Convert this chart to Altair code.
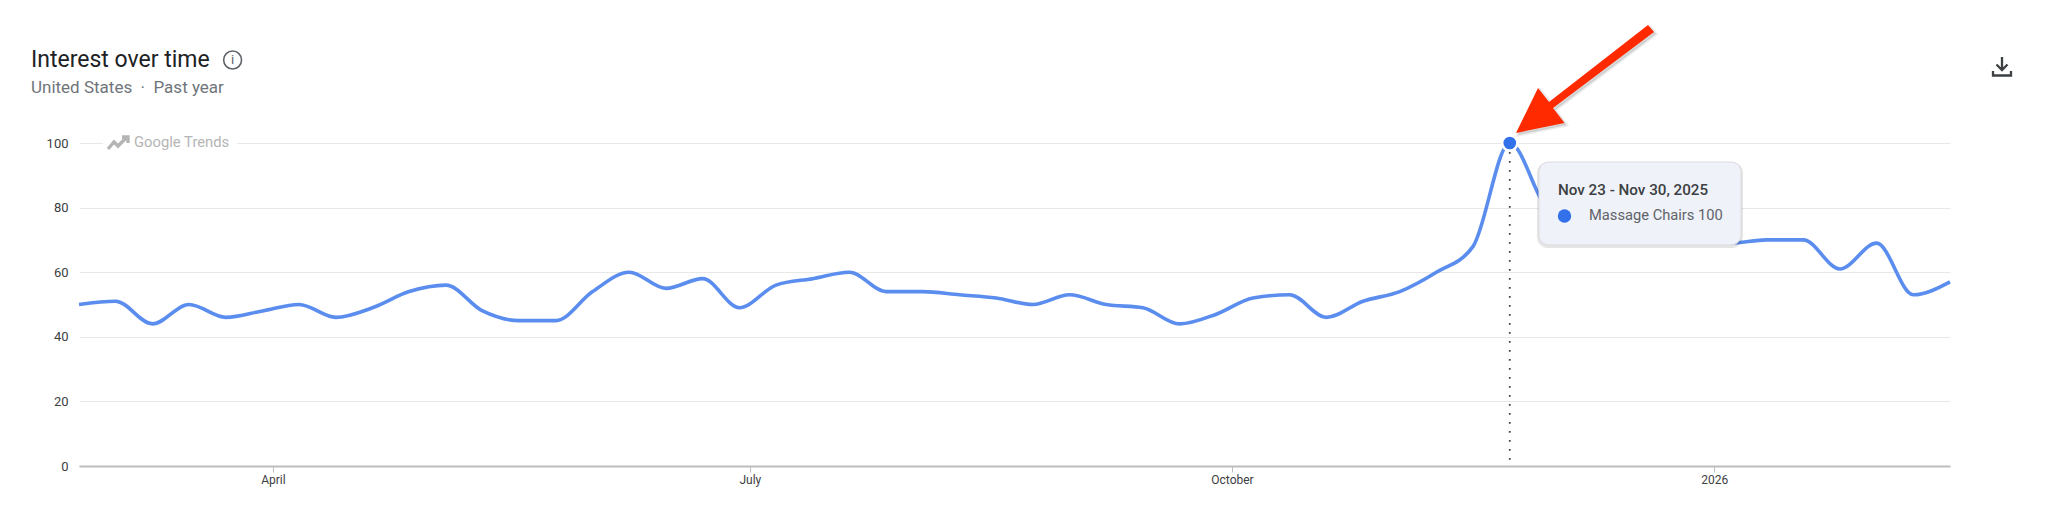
import altair as alt
import pandas as pd

values = [50, 51, 44, 50, 46, 48, 50, 46, 49, 54, 56, 48, 45, 45, 54, 60, 55, 58, 49, 56,
          58, 60, 54, 54, 53, 52, 50, 53, 50, 49, 44, 47, 52, 53, 46, 51, 54, 60, 68, 100,
          80, 74, 72, 70, 69, 69, 70, 70, 61, 69, 53, 57]
dates = [d.strftime("%Y-%m-%dT00:00:00") for d in pd.date_range("2025-02-23", periods=len(values), freq="7D")]
y_ticks = [0, 20, 40, 60, 80, 100]
peak_date = "2025-11-23T00:00:00"
peak_value = 100
title_text = "Interest over time"
subtitle_text = "United States \u00a0\u00b7\u00a0 Past year"
brand_text = "Google Trends"
tip_title = "Nov 23 - Nov 30, 2025"
tip_series = "Massage Chairs 100"

FONT = "Roboto"
W, H = 1871, 323
OX, OY = 79, 143  # page position of plot area


def px(x):
    return alt.value(x - OX)


def py(y):
    return alt.value(y - OY)


df = pd.DataFrame({"date": dates, "value": values})
one = pd.DataFrame({"a": [0]})

x_scale = alt.Scale(nice=False, domain=[alt.DateTime(year=2025, month=2, date=23),
                                         alt.DateTime(year=2026, month=2, date=15)])
y_scale = alt.Scale(domain=[0, 100], nice=False)

line = alt.Chart(df).mark_line(interpolate="monotone", strokeWidth=3.6, color="#5B8DEF", clip=False).encode(
    x=alt.X("date:T", scale=x_scale, title=None, axis=alt.Axis(
        values=[alt.DateTime(year=2025, month=4, date=1), alt.DateTime(year=2025, month=7, date=1),
                alt.DateTime(year=2025, month=10, date=1), alt.DateTime(year=2026, month=1, date=1)],
        labelExpr="month(datum.value)==0 ? timeFormat(datum.value,'%Y') : timeFormat(datum.value,'%B')",
        grid=False, domainColor="#BDBDBD", domainWidth=2, tickColor="#BDBDBD", tickSize=6,
        labelFont=FONT, labelFontSize=12, labelColor="#3C4043", labelPadding=2)),
    y=alt.Y("value:Q", scale=y_scale, title=None, axis=alt.Axis(
        values=y_ticks, grid=True, gridColor="#E8E8E8", gridWidth=1, domain=False, ticks=False,
        labelFont=FONT, labelFontSize=13, labelColor="#3C4043", labelPadding=11)),
)

peak_df = pd.DataFrame({"date": [peak_date], "value": [peak_value], "bottom": [0.5]})
rule = alt.Chart(peak_df).mark_rule(color="#444444", strokeWidth=1.8, strokeDash=[1.8, 7.2]).encode(
    x="date:T", y="value:Q", y2="bottom:Q")
peak = alt.Chart(peak_df).mark_point(filled=True, size=230, color="#3271EA", stroke="white", strokeWidth=2.5, opacity=1).encode(
    x="date:T", y="value:Q")


def text(t, x, y, size, color, weight="normal", font=FONT, align="left"):
    return alt.Chart(pd.DataFrame({"t": [t]})).mark_text(
        align=align, baseline="middle", fontSize=size, color=color, fontWeight=weight, font=font
    ).encode(x=px(x), y=py(y), text="t:N")


def box(x0, x1, y0, y1, **kw):
    return alt.Chart(one).mark_rect(**kw).encode(x=px(x0), x2=px(x1), y=py(y0), y2=py(y1))


def sym(path, x, y, **kw):
    return alt.Chart(one).mark_point(shape=path, size=4, opacity=1, **kw).encode(x=px(x), y=py(y))


# Brand cut-out on the top gridline
brand_bg = box(103, 237, 134, 152, color="white")
brand_logo = sym("M-10,6 L-4,-1 L0,3 L9,-6 M4,-6 L10,-6 L10,0", 118, 143, filled=False, stroke="#B5B5B5", strokeWidth=3.4)
brand = text(brand_text, 134, 143, 14.8, "#B5B5B5")

# Tooltip
tip_shadow = box(1537, 1743, 162, 248, color="#000000", opacity=0.10, cornerRadius=11)
tip_box = box(1539, 1741, 162, 245, color="#EFF2F9", stroke="#DADCE0", strokeWidth=1, cornerRadius=10)
tip_t = text(tip_title, 1558, 190, 15.2, "#3C4043", weight=500)
tip_dot = alt.Chart(one).mark_point(filled=True, size=180, color="#3271EA", opacity=1).encode(x=px(1564.5), y=py(216))
tip_s = text(tip_series, 1589, 216, 14.7, "#5F6368")

# Header
title = text(title_text, 31, 60, 23, "#202124", weight=400)
sub = text(subtitle_text, 31, 88, 17, "#70757A")
info_c = alt.Chart(one).mark_point(size=320, filled=False, color="#5F6368", strokeWidth=1.6, opacity=1).encode(x=px(232.6), y=py(60))
info_i = text("i", 232.6, 60, 13, "#5F6368", align="center")
dl = sym("M0,-10 L0,3 M-5.5,-2.5 L0,3 L5.5,-2.5 M-9,4 L-9,8.5 L9,8.5 L9,4", 2002, 67, filled=False, stroke="#3C4043", strokeWidth=2.3)

# Arrow (annotation)
ARROW = "M132,-108 L138,-101 L37,-25 L48.5,-10 L0,0 L22,-45 L33,-31 Z"
arrow_sh = sym(ARROW, 1518, 135, filled=True, fill="#999999", fillOpacity=0.35, stroke="#999999", strokeOpacity=0.2, strokeWidth=3)
arrow = sym(ARROW, 1516, 133, filled=True, fill="#FF2A00")

chart = alt.layer(
    line, brand_bg, brand_logo, brand, rule, peak,
    tip_shadow, tip_box, tip_t, tip_dot, tip_s,
    title, sub, info_c, info_i, dl, arrow_sh, arrow,
).properties(
    width=W, height=H,
    autosize=alt.AutoSizeParams(type="none"),
    padding={"left": OX - 8, "top": OY - 8, "right": 2048 - OX - W - 8, "bottom": 40},
).configure_view(stroke=None)

chart.save("out.html", embed_options={"renderer": "svg", "actions": False})
